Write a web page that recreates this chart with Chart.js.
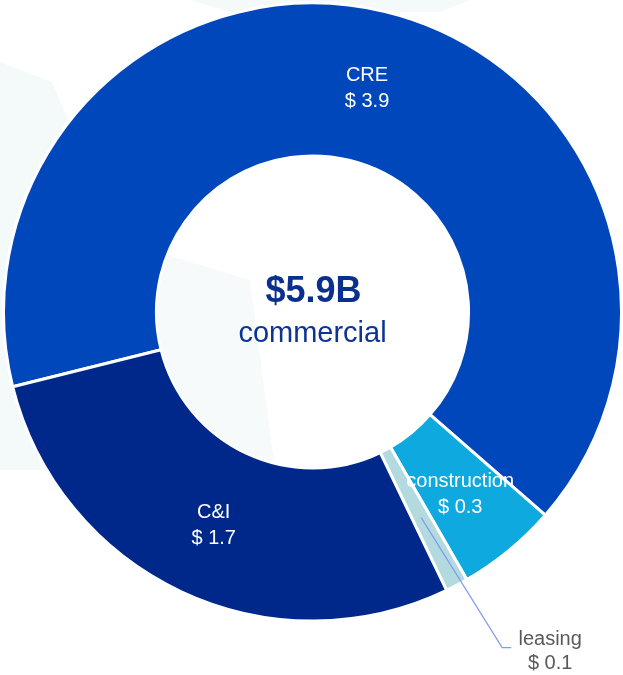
<!DOCTYPE html>
<html>
<head>
<meta charset="utf-8">
<script src="https://cdn.jsdelivr.net/npm/chart.js@4.4.1/dist/chart.umd.min.js"></script>
<style>
  html, body { margin: 0; padding: 0; background: #fff; }
  #chartDiv { position: relative; width: 623px; height: 675px; }
</style>
</head>
<body>
<div id="chartDiv"><canvas id="chartLoans" width="623" height="675"></canvas></div>
<script>
const categories = ["CRE", "construction", "leasing", "C&I"];
const balances = [3.86, 0.31, 0.07, 1.67];
const valueLabels = ["$ 3.9", "$ 0.3", "$ 0.1", "$ 1.7"];
const sliceColors = ["#0047BB", "#0DA9DF", "#B3DADF", "#00288A"];
const totalLabel = "$5.9B";
const totalCaption = "commercial";

const fontFamily = "'Liberation Sans', Arial, sans-serif";

// faint shapes behind the donut
const backdropPlugin = {
  id: "backdrop",
  beforeDraw: (chart) => {
    const ctx = chart.ctx;
    ctx.save();
    ctx.fillStyle = "#f4f9fa";
    ctx.beginPath();
    ctx.moveTo(0, 62);
    ctx.lineTo(52, 82);
    ctx.lineTo(70, 125);
    ctx.lineTo(40, 470);
    ctx.lineTo(0, 470);
    ctx.closePath();
    ctx.fill();
    ctx.beginPath();
    ctx.moveTo(190, 0);
    ctx.lineTo(470, 0);
    ctx.lineTo(440, 12);
    ctx.lineTo(230, 12);
    ctx.closePath();
    ctx.fill();
    ctx.restore();
  },
  afterDatasetsDraw: (chart) => {
    const arc = chart.getDatasetMeta(0).data[0];
    const ctx = chart.ctx;
    ctx.save();
    ctx.beginPath();
    ctx.arc(arc.x, arc.y, arc.innerRadius - 1, 0, Math.PI * 2);
    ctx.clip();
    ctx.fillStyle = "#f6fafb";
    ctx.beginPath();
    ctx.moveTo(150, 250);
    ctx.lineTo(250, 280);
    ctx.lineTo(275, 470);
    ctx.lineTo(150, 470);
    ctx.closePath();
    ctx.fill();
    ctx.restore();
  },
};

// slice labels and center text
const labelsPlugin = {
  id: "sliceLabels",
  afterDraw: (chart) => {
    const ctx = chart.ctx;
    const meta = chart.getDatasetMeta(0);
    ctx.save();
    ctx.textAlign = "center";
    ctx.textBaseline = "alphabetic";
    meta.data.forEach((arc, i) => {
      const pos = arc.tooltipPosition();
      if (categories[i] === "leasing") {
        const elbowX = pos.x + 81;
        const elbowY = pos.y + 130;
        ctx.strokeStyle = "#7f9cf0";
        ctx.lineWidth = 1.2;
        ctx.beginPath();
        ctx.moveTo(pos.x, pos.y);
        ctx.lineTo(elbowX, elbowY);
        ctx.lineTo(elbowX + 9, elbowY);
        ctx.stroke();
        ctx.fillStyle = "#595959";
        ctx.font = `20px ${fontFamily}`;
        ctx.fillText(categories[i], elbowX + 48, elbowY - 3);
        ctx.fillText(valueLabels[i], elbowX + 48, elbowY + 21);
      } else {
        ctx.fillStyle = "#ffffff";
        ctx.font = `20px ${fontFamily}`;
        ctx.fillText(categories[i], pos.x, pos.y - 5);
        ctx.fillText(valueLabels[i], pos.x, pos.y + 21);
      }
    });
    const cx = meta.data[0].x;
    const cy = meta.data[0].y;
    ctx.fillStyle = "#0a2f8e";
    ctx.font = `bold 36px ${fontFamily}`;
    ctx.fillText(totalLabel, cx + 1, cy - 10);
    ctx.font = `29px ${fontFamily}`;
    ctx.fillStyle = "#0d3494";
    ctx.fillText(totalCaption, cx, cy + 30);
    ctx.restore();
  },
};

const chartLoans = new Chart(document.querySelector("#chartLoans"), {
  type: "doughnut",
  data: {
    labels: categories,
    datasets: [
      {
        data: balances,
        backgroundColor: sliceColors,
        borderColor: "#ffffff",
        borderWidth: 3,
      },
    ],
  },
  options: {
    responsive: false,
    animation: false,
    devicePixelRatio: 1,
    rotation: -104,
    cutout: "50.5%",
    layout: {
      padding: { left: 2, right: 0, top: 0, bottom: 51 },
    },
    plugins: {
      legend: { display: false },
      tooltip: { enabled: false },
    },
  },
  plugins: [backdropPlugin, labelsPlugin],
});
</script>
</body>
</html>
